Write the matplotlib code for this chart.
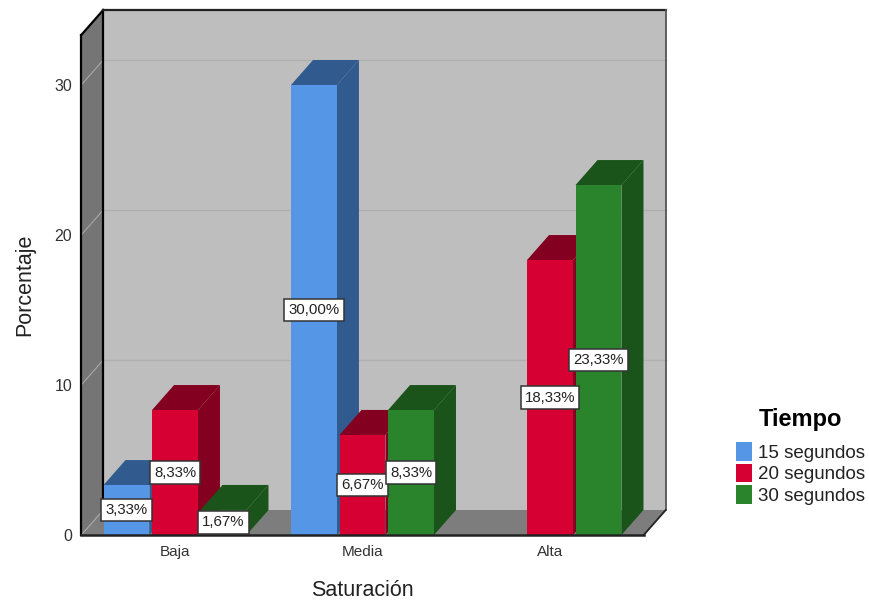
import numpy as np
import matplotlib
matplotlib.use('Agg')
import matplotlib.pyplot as plt
from matplotlib.patches import Polygon, Patch

plt.rcParams['font.family'] = ['Liberation Sans', 'DejaVu Sans']

# Percentages per saturation level and time
categories = ['Baja', 'Media', 'Alta']
series_names = ['15 segundos', '20 segundos', '30 segundos']
v15 = [3.33, 30.00, 0]
v20 = [8.33, 6.67, 18.33]
v30 = [1.67, 8.33, 23.33]
yticks = [0, 10, 20, 30]

front_colors = ['#5596e6', '#d60032', '#2a842b']
dark_colors = ['#315b8f', '#830020', '#1a541a']

W, H = 870, 603
fig = plt.figure(figsize=(W / 100, H / 100), dpi=100)
left, right, bottom, top = 81.25, 643.75, 535, 35
ax = fig.add_axes([left / W, 1 - bottom / H, (right - left) / W, (bottom - top) / H])
ax.set_xlim(-0.5, 2.5)
ax.set_ylim(0, 100 / 3)
ax.patch.set_visible(False)
for s in ax.spines.values():
    s.set_visible(False)

# depth of the box in data units
dx = 22 / 187.5
dy = 25 / 15
x0, x1, y1 = -0.5, 2.5, 100 / 3


def face(pts, color, z=1, edge='none', lw=0):
    ax.add_patch(Polygon(pts, closed=True, facecolor=color, edgecolor=edge,
                         linewidth=lw, zorder=z, clip_on=False))


def line(xs, ys, color='black', lw=1.6, z=2):
    ax.plot(xs, ys, color=color, lw=lw, zorder=z, clip_on=False,
            solid_capstyle='projecting')


# walls and floor
face([(x0 + dx, dy), (x1 + dx, dy), (x1 + dx, y1 + dy), (x0 + dx, y1 + dy)], '#bebebe')
face([(x0, 0), (x0 + dx, dy), (x0 + dx, y1 + dy), (x0, y1)], '#757575')
face([(x0, 0), (x1, 0), (x1 + dx, dy), (x0 + dx, dy)], '#7d7d7d')

for t in yticks:
    if t > 0:
        line([x0 + dx, x1 + dx], [t + dy, t + dy], '#afafaf', 1.0)
    line([x0, x0 + dx], [t, t + dy], '#a8a8a8', 0.8)

line([x0, x0], [0, y1])
line([x0 + dx, x0 + dx], [dy, y1 + dy])
line([x0, x0 + dx], [y1, y1 + dy])
line([x0 + dx, x1 + dx], [y1 + dy, y1 + dy], '#222222')
line([x1 + dx, x1 + dx], [dy, y1 + dy], '#555555', 1.3)
line([x1, x1 + dx], [0, dy], '#222222', 1.3)
line([x0, x1], [0, 0], '#222222', 1.8, z=7)

# bars, left to right so nearer faces overlap
pitch = 0.2587
width = 0.245
z = 3
labels = []
for i in range(len(categories)):
    for j, vals in enumerate([v15, v20, v30]):
        v = vals[i]
        if v == 0:
            continue
        a = i + (j - 1) * pitch - width / 2
        b = a + width
        face([(b, 0), (b + dx, dy), (b + dx, v + dy), (b, v)], dark_colors[j], z)
        face([(a, v), (b, v), (b + dx, v + dy), (a + dx, v + dy)], dark_colors[j], z)
        ax.bar(a + width / 2, v, width=width, color=front_colors[j], zorder=z + 0.1)
        z += 0.2
        labels.append((a + width / 2, v))

for x, v in labels:
    ax.text(x, v / 2, f'{v:.2f}%'.replace('.', ','), ha='center', va='center',
            fontsize=10.8, color='#222222', zorder=20,
            bbox=dict(boxstyle='square,pad=0.27', facecolor='white',
                      edgecolor='#333333', linewidth=1.1))

ax.set_xticks(range(len(categories)))
ax.set_xticklabels(categories, fontsize=11, color='#333333')
ax.set_yticks(yticks)
ax.set_yticklabels([str(t) for t in yticks], fontsize=11.5, color='#333333')
ax.tick_params(axis='y', length=0, pad=6.5)
ax.tick_params(axis='x', length=0, pad=7)

fig.text(25 / W, 1 - 285 / H, 'Porcentaje', rotation=90, ha='center', va='center',
         fontsize=15.5, color='#222222')
fig.text(362 / W, 1 - 590 / H, 'Saturación', ha='center', va='center',
         fontsize=15.5, color='#222222')

handles = [Patch(facecolor=c, edgecolor='none') for c in front_colors]
leg = fig.legend(handles, series_names, title='Tiempo', loc='upper left',
                 bbox_to_anchor=(736 / W, 1 - 408 / H), frameon=False,
                 fontsize=13.5, handlelength=0.87, handleheight=1.15,
                 handletextpad=0.32, labelspacing=0.1, borderpad=0, borderaxespad=0)
leg.get_title().set_fontsize(17)
leg.get_title().set_fontweight('bold')
# extra room between the legend title and its entries
leg._legend_box.sep = 8
for t in leg.get_texts():
    t.set_color('#222222')

fig.savefig('out.png', dpi=100)
